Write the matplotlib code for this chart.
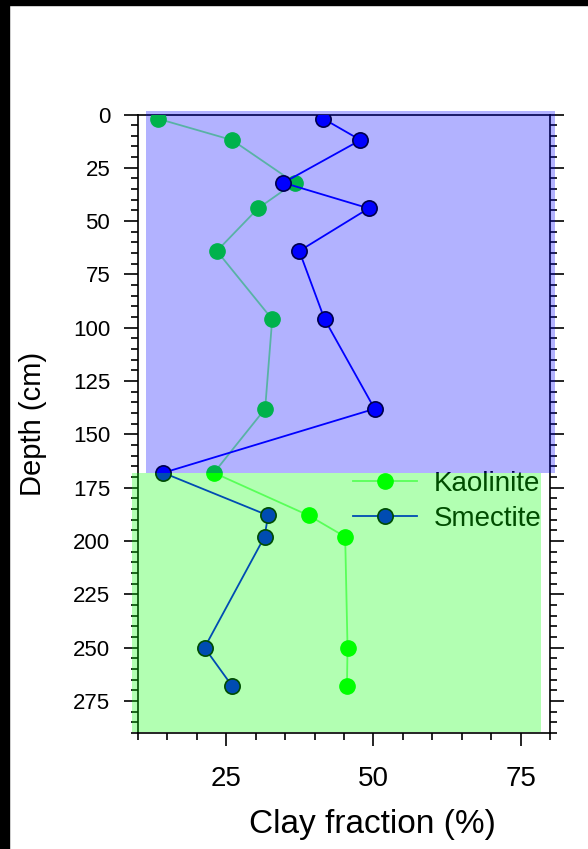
import matplotlib
matplotlib.use("Agg")
import matplotlib.pyplot as plt
from matplotlib.patches import Rectangle
from matplotlib.ticker import MultipleLocator

plt.rcParams['font.family'] = ['Liberation Sans', 'DejaVu Sans']

# depth of each sample (cm) and clay mineral fractions (%)
depth = [2, 12, 32, 44, 64, 96, 138, 168, 188, 198, 250, 268]
kaolinite = [13.4, 26.0, 36.6, 30.4, 23.4, 32.8, 31.6, 22.9, 39.0, 45.2, 45.6, 45.5]
smectite = [41.5, 47.8, 34.7, 49.2, 37.4, 41.7, 50.2, 14.3, 32.1, 31.5, 21.3, 26.0]

# shaded units: (x0, x1, top depth, bottom depth)
upper_unit = (11.4, 80.9, -1.7, 168)
lower_unit = (9.0, 78.4, 168, 289.3)

fig = plt.figure(figsize=(5.88, 8.49), dpi=100)
ax = fig.add_axes([138/588, 1 - 733/849, 412/588, 618.5/849])

ax.plot(kaolinite, depth, '-', color=(0, 1, 0, 0.5), lw=1.3, zorder=3)
ax.plot(kaolinite, depth, 'o', color='lime', ms=11, mec='lime', zorder=3)
ax.plot(smectite, depth, '-o', color='blue', lw=1.3, ms=11, mec='black', mew=1.2, zorder=4)

# legend handles combine the faded line and the solid marker
h_k = plt.Line2D([], [], color=(0, 1, 0, 0.5), lw=1.3, marker='o', ms=11,
                 mfc='lime', mec='lime')
h_s = plt.Line2D([], [], color='blue', lw=1.3, marker='o', ms=11,
                 mfc='blue', mec='black', mew=1.2)
ax.legend([h_k, h_s], ['Kaolinite', 'Smectite'], loc='upper left',
          bbox_to_anchor=(0.522, 0.424), frameon=False, fontsize=20,
          borderpad=0, borderaxespad=0, handlelength=2.3, handletextpad=0.6,
          labelspacing=0.33)

ax.set_xlim(10, 80)
ax.set_ylim(290, 0)
ax.xaxis.set_major_locator(MultipleLocator(25))
ax.xaxis.set_minor_locator(MultipleLocator(5))
ax.yaxis.set_major_locator(MultipleLocator(25))
ax.yaxis.set_minor_locator(MultipleLocator(5))
ax.set_xticks([25, 50, 75])

ax.tick_params(axis='x', which='both', direction='out', bottom=True, top=False,
               labelsize=20, width=1.2)
ax.tick_params(axis='x', which='major', length=9.5, pad=14)
ax.tick_params(axis='x', which='minor', length=5)
ax.tick_params(axis='y', which='both', direction='out', left=True, right=True,
               labelsize=16, width=1.2)
ax.tick_params(axis='y', which='major', length=10, pad=10)
ax.tick_params(axis='y', which='minor', length=5)
for s in ax.spines.values():
    s.set_linewidth(1.2)

ax.set_xlabel('Clay fraction (%)', fontsize=24)
ax.xaxis.set_label_coords(0.57, -0.123)
ax.set_ylabel('Depth (cm)', fontsize=21)
ax.yaxis.set_label_coords(-0.222, 0.5)

# translucent unit shading laid over everything in the axes
for (x0, x1, d0, d1), c in [(upper_unit, 'blue'), (lower_unit, 'lime')]:
    ax.add_patch(Rectangle((x0, d0), x1 - x0, d1 - d0, facecolor=c, alpha=0.3,
                           edgecolor='none', clip_on=False, zorder=10))

# dark frame strips along the left and top edge
fig.add_artist(Rectangle((0, 0), 9/588, 1, transform=fig.transFigure,
                         color='black', zorder=20))
fig.add_artist(Rectangle((0, 1 - 5/849), 1, 5/849, transform=fig.transFigure,
                         color='black', zorder=20))

fig.savefig('out.png', dpi=100)
